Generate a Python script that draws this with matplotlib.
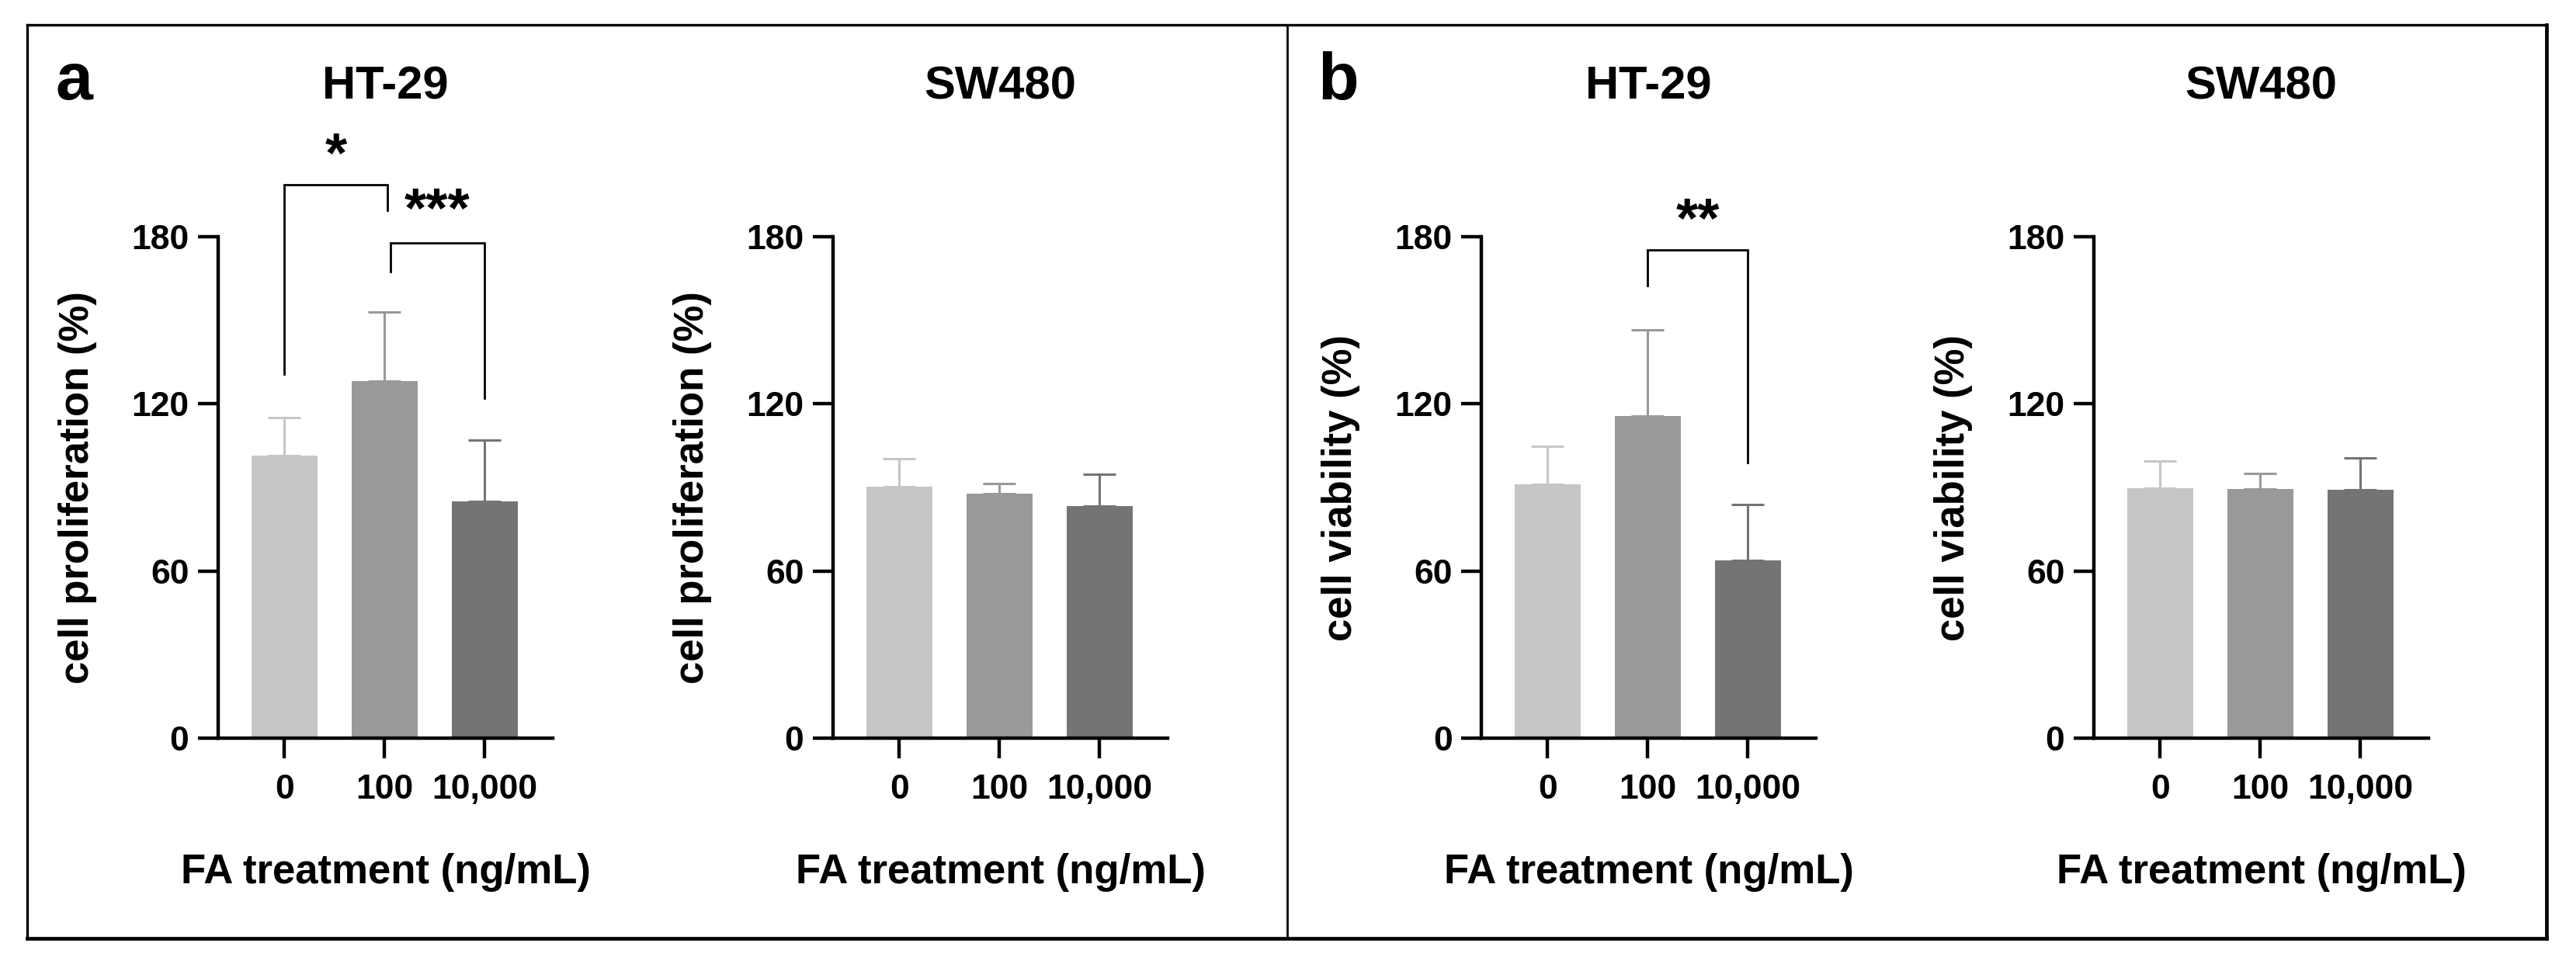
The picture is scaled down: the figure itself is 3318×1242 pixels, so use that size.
import matplotlib
matplotlib.use("Agg")
import matplotlib.pyplot as plt
from matplotlib.lines import Line2D

plt.rcParams['font.family'] = ['Liberation Sans', 'DejaVu Sans']
plt.rcParams['font.weight'] = 'bold'

# ---------------- data ----------------
categories = ['0', '100', '10,000']
bar_colors = ['#C6C6C6', '#999999', '#747474']

a_ht29_mean = [101.4, 128.2, 84.9]
a_ht29_err = [13.7, 24.8, 22.0]
a_sw480_mean = [90.2, 87.9, 83.4]
a_sw480_err = [10.2, 3.5, 11.3]
b_ht29_mean = [91.2, 115.5, 63.7]
b_ht29_err = [13.5, 31.1, 20.2]
b_sw480_mean = [89.7, 89.4, 89.3]
b_sw480_err = [9.9, 5.5, 11.4]

y_ticks = [0, 60, 120, 180]
titles = ['HT-29', 'SW480', 'HT-29', 'SW480']
ylabels = ['cell proliferation (%)', 'cell proliferation (%)',
           'cell viability (%)', 'cell viability (%)']
xlabel = 'FA treatment (ng/mL)'

# significance brackets: (x_left, x_right, y_top, y_left_end, y_right_end, label, label_y)
a_ht29_sig = [(0.0, 1.03, 198.7, 130.7, 189.4, '*', 208.7),
              (1.06, 2.0, 177.9, 167.6, 122.0, '***', 188.8)]
b_ht29_sig = [(1.0, 2.0, 175.2, 162.4, 98.8, '**', 185.4)]

panels = [
    (a_ht29_mean, a_ht29_err, a_ht29_sig),
    (a_sw480_mean, a_sw480_err, []),
    (b_ht29_mean, b_ht29_err, b_ht29_sig),
    (b_sw480_mean, b_sw480_err, []),
]

# ---------------- layout (pixels) ----------------
W, H = 3318, 1242
DPI = 200
fig = plt.figure(figsize=(W / DPI, H / DPI), dpi=DPI)
fig.patch.set_facecolor('white')

ax_lefts = [281, 1073, 1908, 2697]
ax_w = 431
ax_top, ax_bot = 305, 951

axis_lw = 1.6
for i, (means, errs, sigs) in enumerate(panels):
    rect = [ax_lefts[i] / W, 1 - ax_bot / H, ax_w / W, (ax_bot - ax_top) / H]
    ax = fig.add_axes(rect)
    x = list(range(len(categories)))
    ax.bar(x, means, width=0.66, color=bar_colors, edgecolor='none', zorder=2)
    for xi, m, e, c in zip(x, means, errs, bar_colors):
        ax.errorbar([xi], [m], yerr=[[0], [e]], fmt='none', ecolor=c,
                    elinewidth=1.1, capsize=7.7, capthick=1.1, zorder=1)
    ax.set_xlim(-0.66, 2.68)
    ax.set_ylim(0, 180)
    ax.set_yticks(y_ticks)
    ax.set_xticks(x)
    ax.set_xticklabels(categories)
    for s in ['top', 'right']:
        ax.spines[s].set_visible(False)
    for s in ['left', 'bottom']:
        ax.spines[s].set_linewidth(axis_lw)
        ax.spines[s].set_zorder(3)
    ax.tick_params(axis='both', direction='out', length=9.5, width=axis_lw,
                   labelsize=16, pad=4)
    ax.tick_params(axis='x', pad=7)
    for lab in ax.get_xticklabels() + ax.get_yticklabels():
        lab.set_fontweight('bold')
    ax.set_ylabel(ylabels[i], fontsize=19, fontweight='bold', labelpad=10)
    ax.set_xlabel(xlabel, fontsize=19, fontweight='bold', labelpad=22)
    ax.yaxis.set_label_coords(-(ax_lefts[i] - (ax_lefts[i] - 156)) / ax_w, 0.5)
    ax.set_title(titles[i], fontsize=21.5, fontweight='bold', pad=0,
                 y=(ax_bot - 127) / (ax_bot - ax_top), va='baseline')
    for (x1, x2, yt, yl, yr, lab, ly) in sigs:
        ax.plot([x1, x1, x2, x2], [yl, yt, yt, yr], color='black', lw=1.0,
                clip_on=False, solid_joinstyle='miter')
        ax.text((x1 + x2) / 2, ly, lab, ha='center', va='center',
                fontsize=26, fontweight='bold', clip_on=False)

# panel letters
fig.text(72 / W, 1 - 128 / H, 'a', fontsize=31, fontweight='bold', va='baseline')
fig.text(1697 / W, 1 - 128 / H, 'b', fontsize=31, fontweight='bold', va='baseline')

# outer frame and divider
L, R, T, B = 35, 3280, 32, 1209
DIV = 1658
def fline(xs, ys, lw):
    fig.add_artist(Line2D([v / W for v in xs], [1 - v / H for v in ys],
                          color='black', lw=lw, solid_capstyle='projecting'))
fline([L, R], [T, T], 1.2)
fline([L, L], [T, B], 1.2)
fline([L, R], [B, B], 1.7)
fline([R, R], [T, B], 1.7)
fline([DIV, DIV], [T, B], 1.0)

fig.savefig('out.png', dpi=DPI, facecolor='white')
